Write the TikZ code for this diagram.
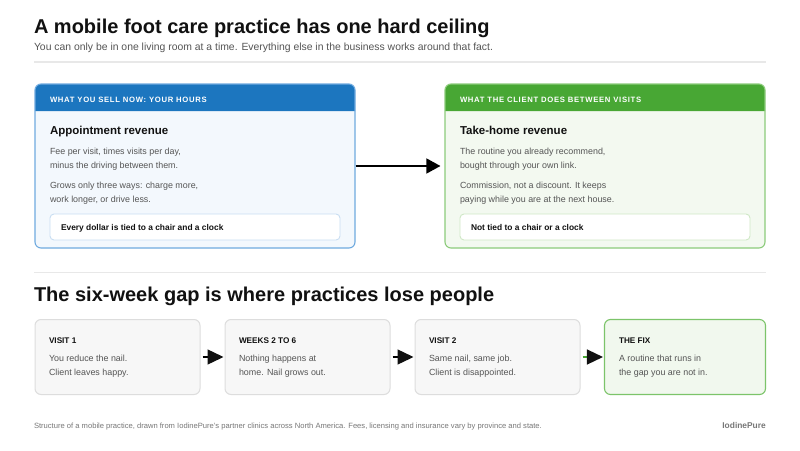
\documentclass[tikz,border=0pt]{standalone}
\usepackage{fontspec}
\setmainfont{Liberation Sans}
\usetikzlibrary{arrows.meta}
\definecolor{ink}{HTML}{111111}
\definecolor{bodygray}{HTML}{555555}
\definecolor{subgray}{HTML}{555555}
\definecolor{rulegray}{HTML}{E8E8E8}
\definecolor{bluehead}{HTML}{1C76BF}
\definecolor{blueedge}{HTML}{6FAADF}
\definecolor{bluefill}{HTML}{F3F8FD}
\definecolor{blueinner}{HTML}{C9DEF2}
\definecolor{greenhead}{HTML}{48A734}
\definecolor{greenedge}{HTML}{8CCB7B}
\definecolor{greenfill}{HTML}{F3F9F0}
\definecolor{greeninner}{HTML}{CFE8C6}
\definecolor{stepfill}{HTML}{F7F7F7}
\definecolor{stepedge}{HTML}{DDDDDD}
\definecolor{fixfill}{HTML}{F1F8EE}
\definecolor{fixedge}{HTML}{7CC46A}
\definecolor{footgray}{HTML}{777777}
\tikzset{
  txt/.style={anchor=base west, inner sep=0pt, outer sep=0pt},
  bigcard/.style={rounded corners=6pt, line width=1.1pt, minimum width=320pt, minimum height=164pt, inner sep=0pt},
  innerbox/.style={rounded corners=4pt, line width=0.9pt, fill=white, minimum width=290pt, minimum height=26pt, inner sep=0pt},
  stepbox/.style={rounded corners=6pt, line width=1pt, draw=stepedge, fill=stepfill, minimum height=75pt, inner sep=0pt},
  headtxt/.style={txt, text=white, font=\fontsize{7.7}{9}\selectfont\bfseries\addfontfeatures{LetterSpace=9}},
  cardtitle/.style={txt, text=ink, font=\fontsize{11.5}{14}\selectfont\bfseries},
  bodytxt/.style={txt, text=bodygray, font=\fontsize{8.9}{11}\selectfont},
  innertxt/.style={txt, text=ink, font=\fontsize{8.4}{10}\selectfont\bfseries},
  steplabel/.style={txt, text=ink, font=\fontsize{8.2}{10}\selectfont\bfseries},
  bigarrow/.style={line width=1.4pt, -{Triangle[length=14pt,width=15pt]}},
  smallarrow/.style={line width=1.4pt, -{Triangle[length=16pt,width=15pt,color=ink]}},
}
\begin{document}
\begin{tikzpicture}[x=1pt,y=-1pt]
\useasboundingbox (0,0) rectangle (800,450);
\fill[white] (0,0) rectangle (800,450);

% title
\node[txt, text=ink, font=\fontsize{20}{22}\selectfont\bfseries] (title) at (34,33) {A mobile foot care practice has one hard ceiling};
\node[txt, text=subgray, font=\fontsize{10.4}{12}\selectfont] (subtitle) at (34,50.5) {You can only be in one living room at a time. Everything else in the business works around that fact.};
\draw[rulegray, line width=1.5pt] (34,62) -- (766,62);

% left card
\node[bigcard, fill=bluefill] (L) at (195,166) {};
\fill[bluehead] (35,111) [rounded corners=6pt] -- (35,84) -- (355,84) [sharp corners] -- (355,111) -- cycle;
\node[bigcard, draw=blueedge] at (195,166) {};
\node[headtxt] (Lh) at (50,102) {WHAT YOU SELL NOW: YOUR HOURS};
\node[cardtitle] (Lt) at (50,134.5) {Appointment revenue};
\node[bodytxt] (Lb1) at (50,154) {Fee per visit, times visits per day,};
\node[bodytxt] (Lb2) at (50,168) {minus the driving between them.};
\node[bodytxt] (Lb3) at (50,188.5) {Grows only three ways: charge more,};
\node[bodytxt] (Lb4) at (50,202) {work longer, or drive less.};
\node[innerbox, draw=blueinner] (Li) at (195,227) {};
\node[innertxt] (Lit) at (61,230.3) {Every dollar is tied to a chair and a clock};

% right card
\node[bigcard, fill=greenfill] (R) at (605,166) {};
\fill[greenhead] (445,111) [rounded corners=6pt] -- (445,84) -- (765,84) [sharp corners] -- (765,111) -- cycle;
\node[bigcard, draw=greenedge] at (605,166) {};
\node[headtxt] (Rh) at (460,102) {WHAT THE CLIENT DOES BETWEEN VISITS};
\node[cardtitle] (Rt) at (460,134.5) {Take-home revenue};
\node[bodytxt] (Rb1) at (460,154) {The routine you already recommend,};
\node[bodytxt] (Rb2) at (460,168) {bought through your own link.};
\node[bodytxt] (Rb3) at (460,188.5) {Commission, not a discount. It keeps};
\node[bodytxt] (Rb4) at (460,202) {paying while you are at the next house.};
\node[innerbox, draw=greeninner] (Ri) at (605,227) {};
\node[innertxt] (Rit) at (471,230.3) {Not tied to a chair or a clock};

\draw[bigarrow, shorten >=4pt] (L.east) -- (R.west);

% second section
\draw[rulegray, line width=1.5pt] (34,272.5) -- (766,272.5);
\node[txt, text=ink, font=\fontsize{20}{22}\selectfont\bfseries] (sec) at (34,301.5) {The six-week gap is where practices lose people};

\node[stepbox, minimum width=165pt] (s1) at (117.5,357) {};
\node[stepbox, minimum width=165pt] (s2) at (307.5,357) {};
\node[stepbox, minimum width=165pt] (s3) at (497.5,357) {};
\node[stepbox, minimum width=161pt, draw=fixedge, fill=fixfill, line width=1.1pt] (s4) at (685,357) {};

\node[steplabel] at (49,343) {VISIT 1};
\node[bodytxt] at (49,361) {You reduce the nail.};
\node[bodytxt] at (49,375) {Client leaves happy.};

\node[steplabel] at (239,343) {WEEKS 2 TO 6};
\node[bodytxt] at (239,361) {Nothing happens at};
\node[bodytxt] at (239,375) {home. Nail grows out.};

\node[steplabel] at (429,343) {VISIT 2};
\node[bodytxt] at (429,361) {Same nail, same job.};
\node[bodytxt] at (429,375) {Client is disappointed.};

\node[steplabel] at (619,343) {THE FIX};
\node[bodytxt] at (619,361) {A routine that runs in};
\node[bodytxt] at (619,375) {the gap you are not in.};

\draw[smallarrow, shorten <=2pt, shorten >=1pt] (s1.east) -- (s2.west);
\draw[smallarrow, shorten <=2pt, shorten >=1pt] (s2.east) -- (s3.west);
\draw[smallarrow, draw=greenhead, shorten <=2pt, shorten >=1pt] (s3.east) -- (s4.west);

% footer
\node[txt, text=footgray, font=\fontsize{7.6}{9}\selectfont] (foot) at (34,428) {Structure of a mobile practice, drawn from IodinePure's partner clinics across North America. Fees, licensing and insurance vary by province and state.};
\node[anchor=base east, inner sep=0pt, text=footgray, font=\fontsize{8.4}{10}\selectfont\bfseries] (brand) at (766,428) {IodinePure};
\end{tikzpicture}
\end{document}
